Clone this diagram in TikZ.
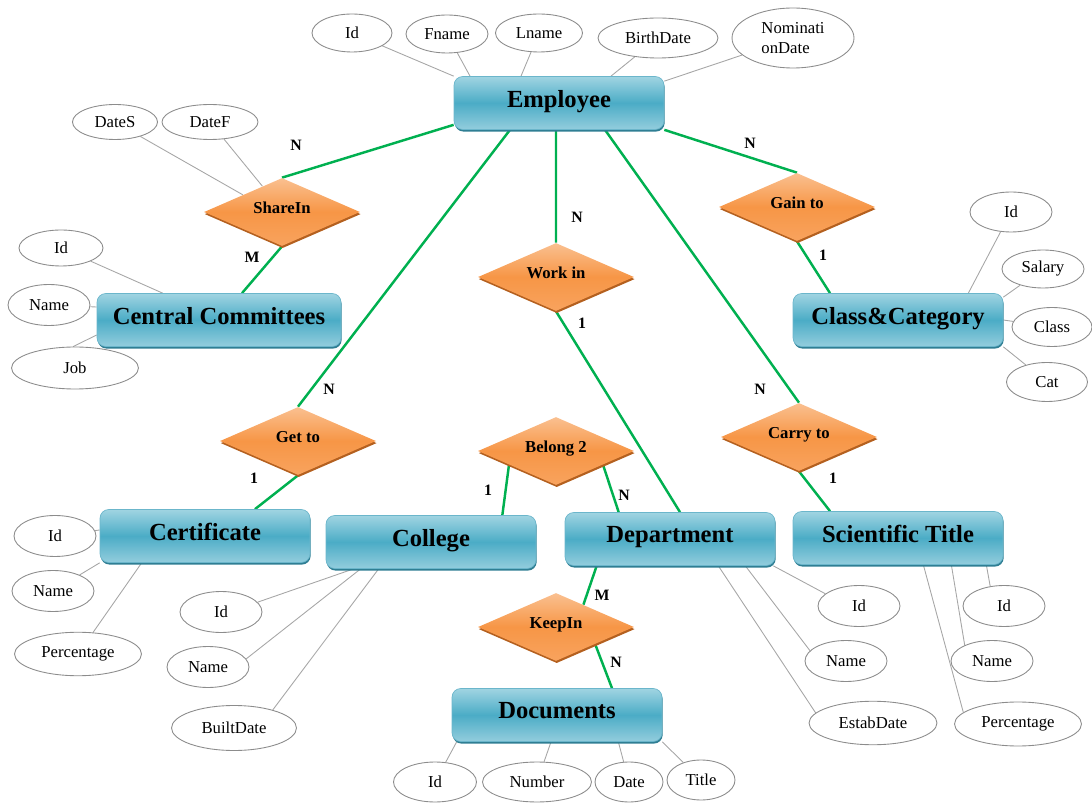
\documentclass[tikz,border=0pt]{standalone}
\usepackage{fontspec}
\setmainfont{Liberation Serif}
\usetikzlibrary{shapes.geometric, shadows, backgrounds, calc}
\definecolor{entTop}{HTML}{A0D4E2}
\definecolor{entMid}{HTML}{4BACC6}
\definecolor{entBot}{HTML}{93CDDD}
\definecolor{entLine}{HTML}{6BB6CB}
\definecolor{entDark}{HTML}{2F7E93}
\definecolor{relTop}{HTML}{FAC090}
\definecolor{relMid}{HTML}{F79646}
\definecolor{relBot}{HTML}{F8A35E}
\definecolor{relDark}{HTML}{B4601F}
\definecolor{linkGreen}{HTML}{00B050}
\definecolor{attrLine}{HTML}{8C8C8C}
\definecolor{lineGray}{HTML}{A6A6A6}

\begin{document}
\begin{tikzpicture}[x=0.02cm,y=-0.02cm,
  entity/.style={rectangle, rounded corners=5pt, draw=entLine, line width=0.4pt,
    top color=entTop, bottom color=entBot, middle color=entMid,
    drop shadow={shadow xshift=0.4pt, shadow yshift=-1.2pt, fill=entDark, opacity=1},
    minimum width=4.2cm, minimum height=1.06cm, text depth=5pt,
    font=\fontsize{14}{16}\selectfont\bfseries},
  rel/.style={diamond, aspect=2.3, inner sep=1pt, minimum width=3.12cm, minimum height=1.36cm,
    top color=relTop, bottom color=relBot, middle color=relMid,
    drop shadow={shadow xshift=0.4pt, shadow yshift=-1.2pt, fill=relDark, opacity=1},
    text depth=5pt, font=\fontsize{9.5}{11}\selectfont\bfseries},
  attr/.style={ellipse, draw=attrLine, line width=0.5pt, fill=white, inner sep=0pt,
    minimum width=1.64cm, minimum height=0.82cm, font=\fontsize{9.5}{11}\selectfont},
  wide attr/.style={attr, minimum width=2.54cm, minimum height=0.87cm},
  card/.style={font=\fontsize{9}{10}\selectfont\bfseries},
  link/.style={draw=linkGreen, line width=1.4pt},
  attr line/.style={draw=lineGray, line width=0.5pt}]
\useasboundingbox (0,0) rectangle (1092,803);

% Entidades
\node[entity] (emp) at (559,103) {Employee};
\node[entity, minimum width=4.88cm] (cc) at (219,320) {Central Committees};
\node[entity] (cls) at (898,320) {Class\&Category};
\node[entity] (cert) at (205,536) {Certificate};
\node[entity] (col) at (431,542) {College};
\node[entity] (dept) at (670,539) {Department};
\node[entity] (sci) at (898,538) {Scientific Title};
\node[entity] (doc) at (557,715) {Documents};

% Relaciones
\node[rel] (share) at (282,212) {ShareIn};
\node[rel] (gain) at (797,207) {Gain to};
\node[rel] (work) at (556,277) {Work in};
\node[rel] (getto) at (298,441) {Get to};
\node[rel] (carry) at (799,437) {Carry to};
\node[rel] (belong) at (556,451) {Belong 2};
\node[rel] (keep) at (556,627) {KeepIn};

% Atributos
\node[attr, minimum width=1.6cm, minimum height=0.76cm] (eId) at (352,33) {Id};
\node[attr, minimum height=0.76cm] (eFname) at (447,34) {Fname};
\node[attr, minimum width=1.74cm, minimum height=0.76cm] (eLname) at (539,33) {Lname};
\node[attr, minimum width=2.4cm, minimum height=0.8cm] (eBirth) at (658,38) {BirthDate};
\node[attr, minimum width=2.44cm, minimum height=1.2cm, align=left] (eNom) at (793,38) {Nominati\\onDate};
\node[attr, minimum width=1.7cm, minimum height=0.7cm] (dS) at (115,122) {DateS};
\node[attr, minimum width=1.92cm, minimum height=0.7cm] (dF) at (210,122) {DateF};
\node[attr, minimum width=1.68cm, minimum height=0.72cm] (ccId) at (61,248) {Id};
\node[attr] (ccName) at (49,305) {Name};
\node[wide attr, minimum height=0.84cm] (ccJob) at (75,368) {Job};
\node[attr, minimum height=0.8cm] (clId) at (1011,212) {Id};
\node[attr, minimum height=0.76cm] (clSalary) at (1043,269) {Salary};
\node[attr, minimum width=1.6cm, minimum height=0.78cm] (clClass) at (1052,327) {Class};
\node[attr, minimum width=1.62cm, minimum height=0.78cm] (clCat) at (1047,382) {Cat};
\node[attr] (ctId) at (55,536) {Id};
\node[attr] (ctName) at (53,591) {Name};
\node[wide attr] (ctPerc) at (78,654) {Percentage};
\node[attr] (coId) at (221,612) {Id};
\node[attr] (coName) at (208,667) {Name};
\node[wide attr, minimum width=2.5cm, minimum height=0.9cm] (coBuilt) at (234,728) {BuiltDate};
\node[attr] (dId) at (859,606) {Id};
\node[attr] (dName) at (846,661) {Name};
\node[wide attr, minimum width=2.56cm] (dEstab) at (873,723) {EstabDate};
\node[attr] (sId) at (1004,606) {Id};
\node[attr] (sName) at (992,661) {Name};
\node[wide attr, minimum height=0.88cm] (sPerc) at (1018,724) {Percentage};
\node[attr, minimum width=1.66cm, minimum height=0.8cm] (dcId) at (435,782) {Id};
\node[attr, minimum width=2.18cm, minimum height=0.8cm] (dcNum) at (537,782) {Number};
\node[attr, minimum width=1.36cm, minimum height=0.8cm] (dcDate) at (629,782) {Date};
\node[attr, minimum width=1.36cm, minimum height=0.8cm] (dcTitle) at (701,780) {Title};

% Cardinalidades
\node[card] (c1) at (296,145) {N};
\node[card] (c2) at (252,257) {M};
\node[card] (c3) at (329,389) {N};
\node[card] (c4) at (254,478) {1};
\node[card] (c5) at (577,217) {N};
\node[card] (c6) at (582,323) {1};
\node[card] (c7) at (760,389) {N};
\node[card] (c8) at (833,478) {1};
\node[card] (c9) at (750,143) {N};
\node[card] (c10) at (823,255) {1};
\node[card] (c11) at (488,490) {1};
\node[card] (c12) at (624,495) {N};
\node[card] (c13) at (602,595) {M};
\node[card] (c14) at (616,662) {N};

\begin{scope}[on background layer]
% Conexiones entre entidades y relaciones
\path[link]
  ([yshift=0.1cm]emp.south west) -- (share.north)
  (share.south) -- ([xshift=0.46cm]cc.north)
  ([xshift=-0.98cm]emp.south) -- (getto.north)
  (getto.south) -- ([xshift=1cm]cert.north)
  ([xshift=-0.06cm]emp.south) -- (work.north)
  (work.south) -- ([xshift=0.2cm]dept.north)
  ([xshift=0.92cm]emp.south) -- (carry.north)
  (carry.south) -- ([xshift=-1.36cm]sci.north)
  (emp.south east) -- (gain.north)
  (gain.south) -- ([xshift=-1.36cm]cls.north)
  ($(belong.west)!0.4!(belong.south)$) -- ([xshift=-0.68cm]col.north east)
  ($(belong.south)!0.6!(belong.east)$) -- ([xshift=1.08cm]dept.north west)
  ([xshift=0.64cm]dept.south west) -- ($(keep.north)!0.7!(keep.north east)$)
  (keep.south east) -- ([xshift=1.1cm]doc.north);

% Atributos a entidades
\path[attr line]
  (eId) -- (emp.north west)
  (eFname) -- ([xshift=-1.78cm]emp.north)
  (eLname) -- ([xshift=-0.76cm]emp.north)
  (eBirth) -- ([xshift=1.04cm]emp.north)
  (eNom) -- ([yshift=-0.1cm]emp.north east)
  (dS) -- (share.north west)
  (dF) -- ($(share.north west)!0.5!(share.north)$)
  (ccId) -- ([xshift=1.32cm]cc.north west)
  (ccName) -- ([yshift=0.26cm]cc.west)
  (ccJob.95) -- ([yshift=-0.3cm]cc.west)
  (clId) -- ([xshift=-0.7cm]cls.north east)
  (clSalary) -- ([yshift=-0.08cm]cls.north east)
  (clClass) -- (cls.east)
  (clCat) -- (cls.south east)
  (ctId) -- ([yshift=0.12cm]cert.west)
  (ctName) -- (cert.south west)
  (ctPerc) -- ([xshift=0.84cm]cert.south west)
  (coId.15) -- ([xshift=0.56cm]col.south west)
  (coName.12) -- ([xshift=0.7cm]col.south west)
  (coBuilt.25) -- ([xshift=1.06cm]col.south west)
  (dId.160) -- ([xshift=-0.04cm]dept.south east)
  (dName.164) -- ([xshift=-0.6cm]dept.south east)
  (dEstab.170) -- ([xshift=-1.14cm]dept.south east)
  (sId.125) -- ([xshift=-0.34cm]sci.south east)
  (sName.150) -- ([xshift=-1.04cm]sci.south east)
  (sPerc.168) -- ([xshift=-1.6cm]sci.south east)
  (dcId) -- ([xshift=0.1cm]doc.south west)
  (dcNum) -- ([xshift=-0.12cm]doc.south)
  (dcDate) -- ([xshift=-0.88cm]doc.south east)
  (dcTitle) -- (doc.south east);
\end{scope}
\end{tikzpicture}
\end{document}
